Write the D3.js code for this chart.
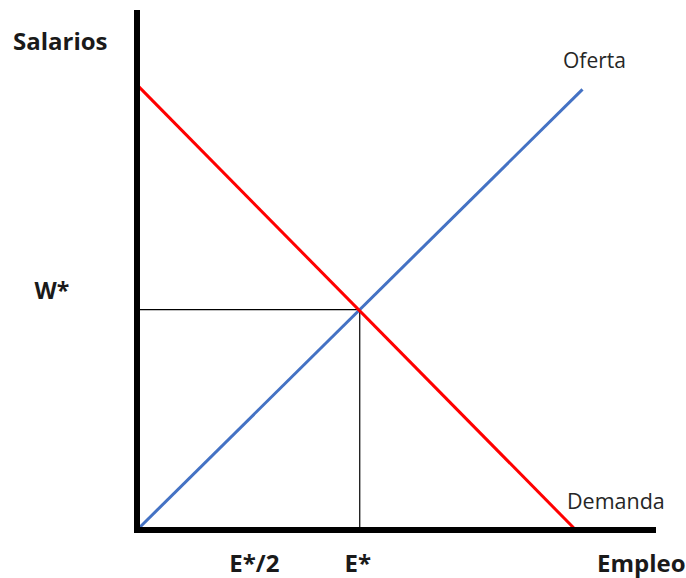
<!DOCTYPE html>
<html>
<head>
<meta charset="utf-8">
<script src="https://cdn.jsdelivr.net/npm/d3@7"></script>
<style>
  html, body { margin: 0; padding: 0; background: #fff; }
  svg { display: block; }
  text { font-family: "Open Sans", "Noto Sans", sans-serif; }
</style>
</head>
<body>
<svg id="chart" width="686" height="578"></svg>
<script>
// Data (units: E* = 1, W* = 1)
const supply = [[0, 0], [2.0, 2.0]];          // Oferta
const demand = [[0, 2.02], [1.97, 0]];        // Demanda
const equilibrium = [1, 1];                   // (E*, W*)
const xTickLabels = [{ v: 0.5, label: "E*/2" }, { v: 1, label: "E*" }];
const yTickLabels = [{ v: 1, label: "W*" }];
const xDomain = [0, 2.33];
const yDomain = [0, 2.36];

const svg = d3.select("#chart");
const x = d3.scaleLinear().domain(xDomain).range([137, 656]);
const y = d3.scaleLinear().domain(yDomain).range([530, 10]);
const line = d3.line().x(d => x(d[0])).y(d => y(d[1]));

// equilibrium guides
svg.append("path")
  .attr("d", line([[0, equilibrium[1]], equilibrium, [equilibrium[0], 0]]))
  .attr("fill", "none").attr("stroke", "#000").attr("stroke-width", 1.2);

// curves
svg.append("path").attr("d", line(supply))
  .attr("fill", "none").attr("stroke", "#4472C4").attr("stroke-width", 3);
svg.append("path").attr("d", line(demand))
  .attr("fill", "none").attr("stroke", "#FF0000").attr("stroke-width", 3);

// axes
svg.append("line").attr("x1", x(0)).attr("x2", x(0)).attr("y1", y(yDomain[1])).attr("y2", y(0) + 3)
  .attr("stroke", "#000").attr("stroke-width", 6);
svg.append("line").attr("x1", x(0) - 3).attr("x2", x(xDomain[1])).attr("y1", y(0)).attr("y2", y(0))
  .attr("stroke", "#000").attr("stroke-width", 6);

// tick labels
svg.selectAll("text.xt").data(xTickLabels).join("text").attr("class", "xt")
  .attr("x", d => x(d.v) + (d.v === 1 ? -2 : 6)).attr("y", 572)
  .attr("text-anchor", "middle").attr("font-weight", "bold").attr("font-size", 24)
  .attr("fill", "#1a1a1a").text(d => d.label);
svg.selectAll("text.yt").data(yTickLabels).join("text").attr("class", "yt")
  .attr("x", 52).attr("y", y(1) - 11)
  .attr("text-anchor", "middle").attr("font-weight", "bold").attr("font-size", 23)
  .attr("fill", "#1a1a1a").text(d => d.label);

// axis titles
svg.append("text").attr("x", 13).attr("y", 50).attr("font-weight", "bold").attr("font-size", 24)
  .attr("fill", "#1a1a1a").text("Salarios");
svg.append("text").attr("x", 597).attr("y", 572).attr("font-weight", "bold").attr("font-size", 24)
  .attr("fill", "#1a1a1a").text("Empleo");

// curve labels
svg.append("text").attr("x", 563).attr("y", 68).attr("font-size", 21)
  .attr("fill", "#262626").text("Oferta");
svg.append("text").attr("x", 567).attr("y", 509).attr("font-size", 21.5)
  .attr("fill", "#262626").text("Demanda");
</script>
</body>
</html>
